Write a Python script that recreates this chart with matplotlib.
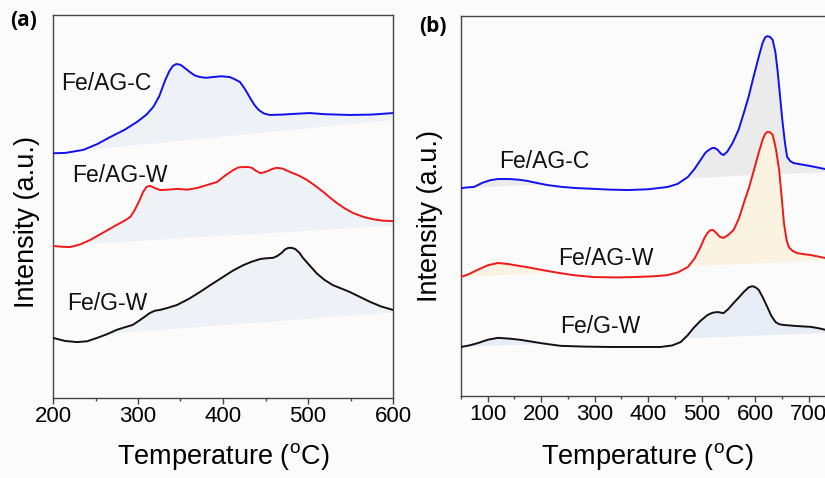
import numpy as np
import matplotlib
matplotlib.use('Agg')
import matplotlib.pyplot as plt
from matplotlib.ticker import MultipleLocator

plt.rcParams['font.family'] = ['Liberation Sans', 'DejaVu Sans']
plt.rcParams['mathtext.fontset'] = 'custom'
plt.rcParams['mathtext.rm'] = 'Liberation Sans'

# TPR profiles, panel (a): temperature [C] and stacked intensity [a.u.]
a_agc_t = [200, 215, 236, 252, 267, 284, 299, 310, 318, 325, 332, 337, 341, 345, 350, 356, 361, 367,
           373, 380, 388, 398, 408, 414, 420, 426, 432, 437, 442, 448, 455, 470, 485, 502, 520, 549,
           575, 600]
a_agc_i = [63.9, 64.0, 64.8, 66.3, 68.1, 70.0, 72.1, 74.0, 76.0, 78.8, 83.0, 85.4, 86.7, 87.2, 87.0,
           86.0, 85.1, 84.2, 83.8, 83.6, 83.8, 84.0, 83.8, 83.2, 82.5, 80.6, 78.3, 76.5, 75.2, 74.3,
           73.9, 74.0, 74.2, 74.4, 74.1, 73.9, 74.0, 74.4]

a_agw_t = [200, 210, 220, 232, 244, 260, 275, 285, 291, 296, 302, 306, 310, 314, 320, 326, 336, 346,
           358, 369, 381, 393, 402, 412, 418, 424, 430, 434, 439, 444, 448, 453, 458, 463, 470, 479,
           489, 499, 508, 518, 526, 534, 544, 553, 565, 576, 588, 600]
a_agw_i = [39.7, 39.5, 39.4, 40.1, 41.3, 43.3, 45.2, 46.4, 47.3, 49.0, 51.7, 53.8, 55.1, 55.4, 54.8,
           54.3, 54.4, 54.6, 54.4, 54.8, 55.6, 56.4, 58.0, 59.5, 60.2, 60.3, 60.3, 60.1, 59.3, 58.7,
           58.9, 59.3, 59.8, 60.1, 59.9, 59.0, 58.1, 56.9, 55.5, 53.8, 52.3, 50.9, 49.4, 48.3, 47.3,
           46.7, 46.3, 46.2]

a_gw_t = [200, 214, 228, 240, 252, 264, 275, 285, 294, 304, 314, 320, 326, 336, 346, 360, 373, 386,
          400, 412, 424, 434, 444, 452, 459, 464, 469, 473, 477, 481, 485, 490, 494, 502, 510, 519,
          529, 539, 549, 561, 573, 586, 600]
a_gw_i = [15.7, 14.9, 14.6, 14.8, 15.7, 16.7, 17.8, 18.5, 19.1, 20.6, 22.2, 22.8, 23.0, 23.6, 24.3,
          25.9, 27.7, 29.6, 31.6, 33.3, 34.7, 35.6, 36.3, 36.5, 36.6, 37.1, 37.9, 38.8, 39.2, 39.2,
          38.9, 37.9, 36.6, 34.6, 32.6, 30.9, 29.5, 28.6, 27.7, 26.4, 25.1, 23.9, 23.0]

# panel (b)
b_agc_t = [50, 62, 74, 90, 105, 119, 140, 160, 174, 194, 212, 240, 268, 300, 330, 362, 400, 436, 455,
           474, 487, 498, 507, 513, 519, 524, 530, 536, 541, 548, 558, 569, 579, 588, 597, 606, 614,
           619, 623, 628, 633, 638, 642, 647, 651, 656, 660, 666, 672, 688, 704, 718, 732, 742]
b_agc_i = [54.7, 54.9, 55.0, 56.1, 56.8, 57.1, 57.1, 56.9, 56.6, 56.0, 55.5, 55.0, 54.7, 54.5, 54.3,
           54.2, 54.4, 55.0, 55.8, 57.6, 59.8, 62.1, 64.0, 64.7, 65.2, 65.3, 64.8, 63.8, 63.4, 64.3,
           66.6, 70.0, 74.5, 78.8, 83.9, 88.8, 92.9, 94.4, 94.7, 94.5, 93.7, 90.5, 85.8, 78.5, 72.6,
           66.5, 62.9, 61.8, 61.3, 60.9, 60.5, 60.1, 59.7, 59.5]

b_agw_t = [50, 65, 81, 100, 119, 140, 160, 174, 200, 224, 260, 298, 340, 373, 410, 436, 455, 474, 487,
           498, 505, 511, 516, 521, 527, 534, 541, 550, 560, 570, 579, 589, 598, 606, 614, 619, 623,
           628, 633, 639, 645, 650, 654, 659, 663, 670, 679, 692, 704, 718, 732, 742]
b_agw_i = [31.3, 32.1, 33.2, 34.4, 35.0, 34.7, 34.2, 33.9, 33.2, 32.6, 31.8, 31.3, 31.2, 31.3, 31.5,
           31.8, 32.5, 33.9, 36.2, 39.2, 41.5, 42.9, 43.6, 43.7, 43.0, 41.9, 41.6, 42.4, 43.7, 46.8,
           50.8, 55.0, 59.5, 63.6, 67.4, 69.0, 69.5, 69.4, 68.7, 65.0, 59.5, 52.0, 45.5, 41.0, 39.2,
           38.2, 37.6, 37.3, 37.1, 36.7, 36.3, 36.1]

b_gw_t = [50, 65, 81, 100, 119, 140, 160, 174, 200, 236, 280, 330, 380, 423, 445, 461, 474, 485, 498,
          511, 520, 530, 541, 550, 560, 570, 579, 588, 595, 601, 607, 615, 623, 630, 638, 645, 653,
          670, 690, 704, 720, 732, 742]
b_gw_i = [12.9, 13.3, 13.9, 14.8, 15.3, 15.1, 14.8, 14.5, 13.9, 13.2, 13.0, 12.9, 12.9, 12.9, 13.3,
          14.2, 16.0, 17.9, 19.8, 21.3, 21.9, 22.1, 21.8, 22.9, 24.5, 26.0, 27.4, 28.6, 28.9, 28.6,
          27.9, 25.8, 23.4, 21.2, 19.5, 18.9, 18.7, 18.5, 18.3, 18.2, 17.8, 17.4, 17.2]

# straight baselines (start, end) used for the shaded areas
a_bases = [(63.9, 72.6), (39.7, 45.0), (15.7, 22.3)]
b_bases = [(54.7, 59.0), (31.3, 35.8), (12.9, 16.6)]

names = ['Fe/AG-C', 'Fe/AG-W', 'Fe/G-W']
colors = ['#1010f0', '#f01818', '#111111']
a_fills = ['#eef1f6', '#eef1f6', '#eef1f6']
b_fills = ['#ebebeb', '#fbf3e2', '#e8edf5']
a_label_pos = [(209, 82.2), (223, 58.0), (217, 24.8)]
b_label_pos = [(121, 61.8), (231, 36.3), (235, 18.2)]

bg = '#fbfbfb'


def draw_panel(ax, curves, bases, fills, label_pos):
    for (t, i), (b0, b1), fc, c, name, (lx, ly) in zip(curves, bases, fills, colors, names, label_pos):
        t = np.array(t, dtype=float)
        i = np.array(i, dtype=float)
        base = np.interp(t, [t[0], t[-1]], [b0, b1])
        ax.fill_between(t, base, i, where=i >= base, color=fc, lw=0, interpolate=True, zorder=1)
        ax.plot(t, i, color=c, lw=1.4, solid_joinstyle='round', zorder=3)
        ax.text(lx, ly, name, fontsize=16.5, va='center', ha='left', color='#111111', zorder=4)
    ax.set_ylim(0, 100)
    ax.set_yticks([])
    ax.set_facecolor(bg)
    for s in ax.spines.values():
        s.set_color('#444444')
        s.set_linewidth(1.0)
    ax.tick_params(axis='x', which='major', direction='out', length=4, width=1.0,
                   color='#444444', labelsize=16, pad=2)
    ax.tick_params(axis='x', which='minor', direction='out', length=2.5, width=1.0, color='#444444')
    ax.set_xlabel(r'Temperature ($\mathregular{^o}$C)', fontsize=19.5)
    ax.set_ylabel('Intensity (a.u.)', fontsize=19.5)


fig = plt.figure(figsize=(8.25, 4.78), dpi=100, facecolor=bg)

ax1 = fig.add_axes([53 / 825, 80 / 478, 340 / 825, 383 / 478])
draw_panel(ax1, [(a_agc_t, a_agc_i), (a_agw_t, a_agw_i), (a_gw_t, a_gw_i)],
           a_bases, a_fills, a_label_pos)
ax1.set_xlim(200, 600)
ax1.xaxis.set_major_locator(MultipleLocator(100))
ax1.xaxis.set_minor_locator(MultipleLocator(50))
ax1.xaxis.set_label_coords(0.502, -0.112)
ax1.yaxis.set_label_coords(-0.038, 0.46)

# right panel runs past the figure edge, the 800 end is cut off
ax2 = fig.add_axes([461 / 825, 82 / 478, 401 / 825, 380 / 478])
draw_panel(ax2, [(b_agc_t, b_agc_i), (b_agw_t, b_agw_i), (b_gw_t, b_gw_i)],
           b_bases, b_fills, b_label_pos)
ax2.set_xlim(50, 800)
ax2.set_xticks([100, 200, 300, 400, 500, 600, 700])
ax2.xaxis.set_minor_locator(MultipleLocator(50))
ax2.xaxis.set_label_coords(0.465, -0.118)
ax2.yaxis.set_label_coords(-0.045, 0.474)

fig.text(10 / 825, 1 - 20 / 478, '(a)', fontsize=15, fontweight='bold', va='center', ha='left',
         family=['Open Sans', 'DejaVu Sans'])
fig.text(419 / 825, 1 - 26 / 478, '(b)', fontsize=15, fontweight='bold', va='center', ha='left',
         family=['Open Sans', 'DejaVu Sans'])

fig.savefig('out.png', dpi=100, facecolor=bg)
